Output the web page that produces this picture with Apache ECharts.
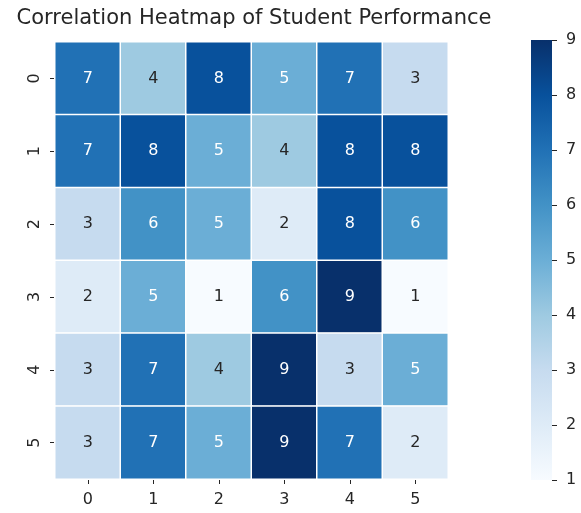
<!DOCTYPE html>
<html>
<head>
<meta charset="utf-8">
<script src="https://cdn.jsdelivr.net/npm/echarts@6/dist/echarts.min.js"></script>
<style>
html,body{margin:0;padding:0;background:#fff;}
#chart{width:581px;height:513px;}
</style>
</head>
<body>
<div id="chart"></div>
<script>
// Grid categories and scores
const xLabels = ['0', '1', '2', '3', '4', '5'];
const yLabels = ['0', '1', '2', '3', '4', '5'];
const row0 = [7, 4, 8, 5, 7, 3];
const row1 = [7, 8, 5, 4, 8, 8];
const row2 = [3, 6, 5, 2, 8, 6];
const row3 = [2, 5, 1, 6, 9, 1];
const row4 = [3, 7, 4, 9, 3, 5];
const row5 = [3, 7, 5, 9, 7, 2];
const colorbarTicks = [1, 2, 3, 4, 5, 6, 7, 8, 9];

const rows = [row0, row1, row2, row3, row4, row5];
const vMin = colorbarTicks[0];
const vMax = colorbarTicks[colorbarTicks.length - 1];

const blues = ['#f7fbff', '#deebf7', '#c6dbef', '#9ecae1', '#6baed6',
               '#4292c6', '#2171b5', '#08519c', '#08306b'];
const font = 'DejaVu Sans';
const textCol = '#262626';
const fs = 16;

// Light cells get dark numbers, darker cells white ones
const cells = [];
rows.forEach((r, yi) => r.forEach((v, xi) => cells.push({
  value: [xi, yi, v],
  label: { color: v >= 5 ? '#ffffff' : textCol }
})));

const chart = echarts.init(document.getElementById('chart'));
chart.setOption({
  backgroundColor: '#fff',
  animation: false,
  title: {
    text: 'Correlation Heatmap of Student Performance',
    left: 249, top: 3, textAlign: 'center',
    textStyle: { fontFamily: font, fontSize: 21, fontWeight: 'normal', color: textCol }
  },
  grid: [
    { left: 55, right: 133, top: 42, bottom: 34 },
    { left: 531, width: 21, top: 40, height: 440 }
  ],
  xAxis: [
    {
      type: 'category', data: xLabels, gridIndex: 0,
      axisLine: { show: false },
      axisTick: { show: true, length: 5, alignWithLabel: true, lineStyle: { color: textCol } },
      axisLabel: { fontFamily: font, fontSize: fs, color: textCol, margin: 13 },
      splitArea: { show: false }
    },
    { type: 'category', data: ['c'], gridIndex: 1, show: false }
  ],
  yAxis: [
    {
      type: 'category', data: yLabels, gridIndex: 0, inverse: true,
      axisLine: { show: false },
      axisTick: { show: true, length: 5, alignWithLabel: true, lineStyle: { color: textCol } },
      axisLabel: { fontFamily: font, fontSize: fs, color: textCol, rotate: 90, margin: 12 }
    },
    {
      type: 'value', gridIndex: 1, position: 'right', min: vMin, max: vMax, interval: 1,
      axisLine: { show: false },
      splitLine: { show: false },
      axisTick: { show: true, length: 5, lineStyle: { color: textCol } },
      axisLabel: { fontFamily: font, fontSize: fs, color: textCol, margin: 14 }
    }
  ],
  visualMap: {
    type: 'continuous', min: vMin, max: vMax, seriesIndex: 0, show: false,
    inRange: { color: blues }
  },
  series: [{
    type: 'heatmap',
    xAxisIndex: 0, yAxisIndex: 0,
    data: cells,
    itemStyle: { borderColor: '#fff', borderWidth: 1.5 },
    label: { show: true, fontFamily: font, fontSize: fs, formatter: p => String(p.value[2]) },
    emphasis: { disabled: true }
  }]
});

// Colour bar drawn in the second grid, spanning its value axis
const barTop = chart.convertToPixel({ xAxisIndex: 1, yAxisIndex: 1 }, [0, vMax]);
const barBottom = chart.convertToPixel({ xAxisIndex: 1, yAxisIndex: 1 }, [0, vMin]);
const barX = 531, barW = 21;
chart.setOption({
  graphic: [{
    type: 'rect', z: 1,
    shape: { x: barX, y: barTop[1], width: barW, height: barBottom[1] - barTop[1] },
    style: {
      fill: new echarts.graphic.LinearGradient(0, 1, 0, 0,
        blues.map((c, i) => ({ offset: i / (blues.length - 1), color: c })))
    }
  }]
});
</script>
</body>
</html>
